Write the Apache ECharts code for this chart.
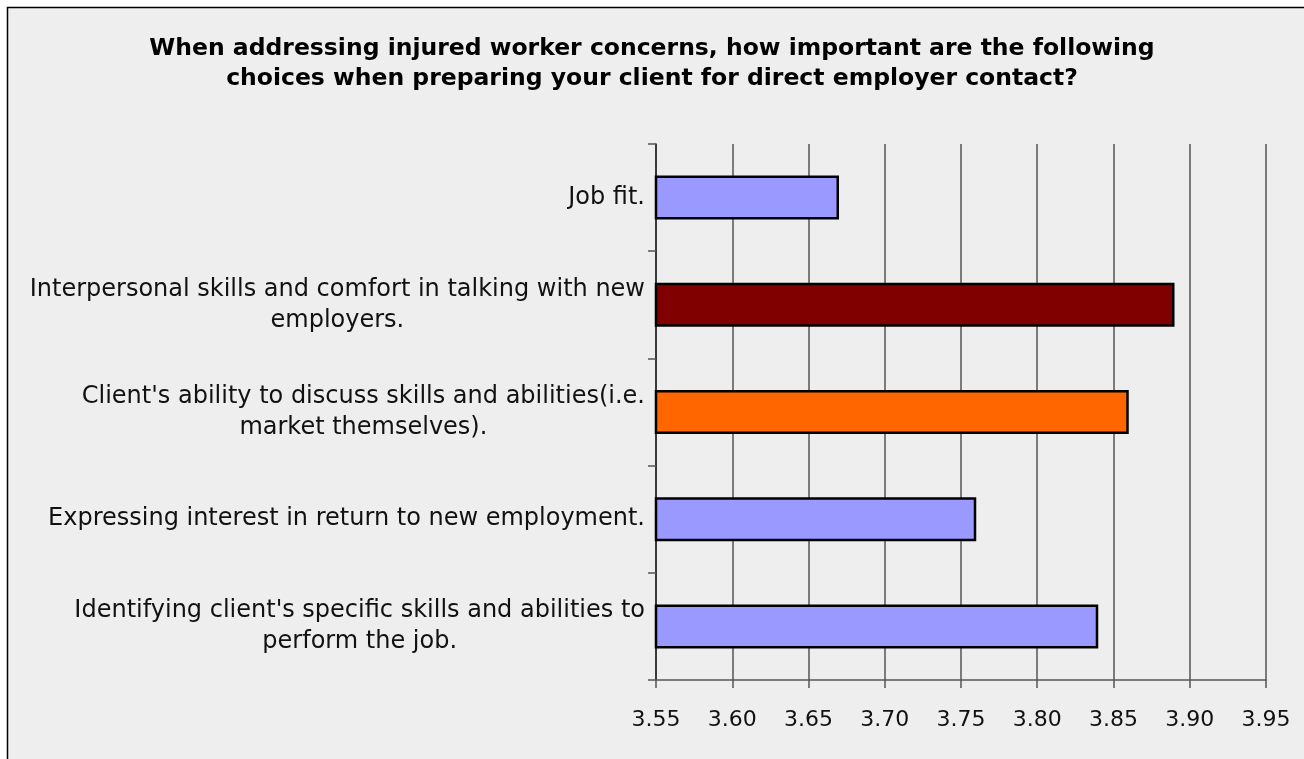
<!DOCTYPE html>
<html>
<head>
<meta charset="utf-8">
<script src="https://cdn.jsdelivr.net/npm/echarts@6/dist/echarts.min.js"></script>
<style>
  html, body { margin: 0; padding: 0; background: #ffffff; }
  #chart { width: 1304px; height: 759px; }
</style>
</head>
<body>
<div id="chart"></div>
<script>
// Survey items (top to bottom) and their mean importance ratings
const categories = [
  "Job fit.",
  "Interpersonal skills and comfort in talking with new\nemployers.",
  "Client's ability to discuss skills and abilities(i.e.\nmarket themselves).",
  "Expressing interest in return to new employment.",
  "Identifying client's specific skills and abilities to\nperform the job."
];
const values = [3.67, 3.89, 3.86, 3.76, 3.84];
const barColors = ["#9999FF", "#800000", "#FF6600", "#9999FF", "#9999FF"];

const titleText = "When addressing injured worker concerns, how important are the following\nchoices when preparing your client for direct employer contact?";

const chart = echarts.init(document.getElementById("chart"), null, { renderer: "canvas" });

chart.setOption({
  backgroundColor: "#ffffff",
  animation: false,
  graphic: [{
    type: "rect",
    z: -10,
    shape: { x: 7.5, y: 7.5, width: 1310, height: 760 },
    style: { fill: "#eeeeee", stroke: "#000000", lineWidth: 1.5 }
  }],
  title: {
    text: titleText,
    left: "center",
    top: 29,
    textStyle: {
      fontFamily: "DejaVu Sans",
      fontWeight: "bold",
      fontSize: 23.5,
      lineHeight: 30,
      color: "#000000"
    }
  },
  grid: { left: 656, right: 38, top: 144, bottom: 79 },
  xAxis: {
    type: "value",
    min: 3.55,
    max: 3.95,
    interval: 0.05,
    axisLine: { show: true, lineStyle: { color: "#555555", width: 1.5 } },
    axisTick: { show: true, length: 8, lineStyle: { color: "#555555", width: 1.5 } },
    splitLine: { show: true, lineStyle: { color: "#555555", width: 1.5 } },
    axisLabel: {
      margin: 29,
      fontFamily: "DejaVu Sans",
      fontSize: 22,
      color: "#111111",
      formatter: v => v.toFixed(2)
    }
  },
  yAxis: {
    type: "category",
    inverse: true,
    data: categories,
    axisLine: { show: true, lineStyle: { color: "#222222", width: 1.5 } },
    axisTick: { show: true, length: 8, lineStyle: { color: "#555555", width: 1.5 } },
    splitLine: { show: false },
    axisLabel: {
      margin: 11,
      color: "#111111",
      fontFamily: "DejaVu Sans",
      fontSize: 24,
      lineHeight: 31,
      formatter: v => v.split("\n").map(s => "{c|" + s + "}").join("\n"),
      rich: {
        c: { align: "center", fontFamily: "DejaVu Sans", fontSize: 24, lineHeight: 31, color: "#111111" }
      }
    }
  },
  series: [{
    type: "bar",
    data: values.map((v, i) => ({ value: v, itemStyle: { color: barColors[i] } })),
    barWidth: "41%",
    itemStyle: { borderColor: "#000000", borderWidth: 2.5 }
  }]
});
</script>
</body>
</html>
